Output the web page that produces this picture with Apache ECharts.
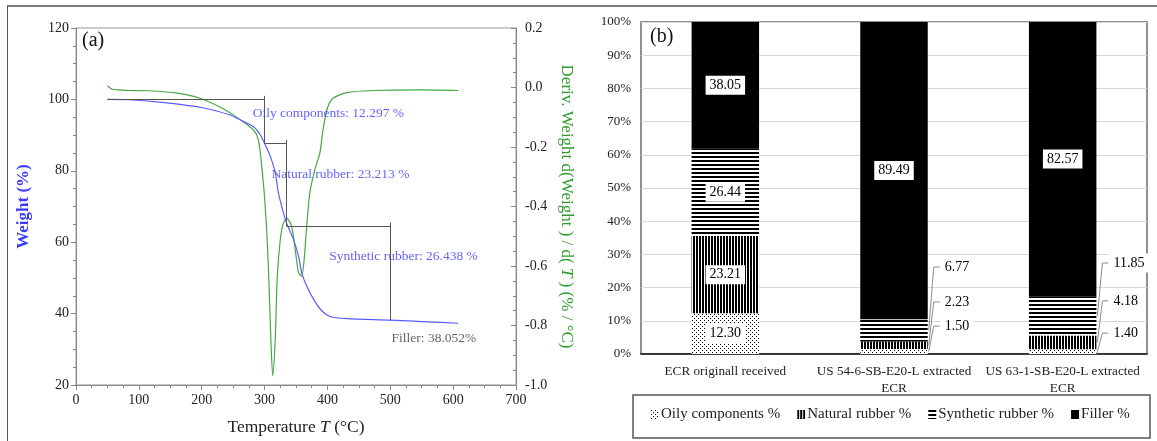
<!DOCTYPE html>
<html>
<head>
<meta charset="utf-8">
<script src="https://cdn.jsdelivr.net/npm/echarts@6/dist/echarts.min.js"></script>
<style>html,body{margin:0;padding:0;background:#fff;}#c{width:1157px;height:441px;}</style>
</head>
<body>
<div id="c"></div>
<script>
// ---- Panel (a) data ----
const tempW = [50, 85, 144, 203, 244, 261, 282, 293, 301, 309, 317, 322, 330, 335, 346, 354, 359, 367, 378, 391, 404, 431, 500, 558, 608];
const weightPct = [100, 99.9, 99.0, 97.6, 95.7, 94.3, 92.4, 90.1, 87.3, 84.1, 79.5, 73.8, 68.2, 65.4, 60.8, 56.1, 51.5, 47.7, 44.0, 40.8, 39.2, 38.6, 38.2, 37.7, 37.3];
const tempD = [50, 58, 85, 114, 161, 197, 232, 261, 282, 290, 295, 301, 306, 310, 313, 317, 320, 325, 330, 336, 343, 348, 354, 359, 363, 367, 372, 380, 388, 393, 400, 409, 431, 473, 547, 608];
const derivD = [0.006, -0.006, -0.010, -0.011, -0.019, -0.036, -0.069, -0.108, -0.142, -0.175, -0.254, -0.399, -0.600, -0.846, -0.969, -0.846, -0.645, -0.511, -0.455, -0.441, -0.466, -0.533, -0.622, -0.634, -0.578, -0.466, -0.354, -0.276, -0.220, -0.142, -0.069, -0.036, -0.017, -0.010, -0.008, -0.010];
const stepT = [50, 300, 335, 500];
const stepW = [100, 87.703, 64.490, 38.052];
const annoTexts = ['Oily components: 12.297 %', 'Natural rubber: 23.213 %', 'Synthetic rubber: 26.438 %', 'Filler: 38.052%'];
const annoT = [281, 311, 403, 502];
const annoW = [96.2, 78.9, 56.1, 33.1];
const xTicksA = [0, 700, 100];
const yTicksA = [20, 120, 20];
const yTicksD = [-1.0, 0.2, 0.2];

// ---- Panel (b) data ----
const categories = ['ECR originall received', 'US 54-6-SB-E20-L extracted\nECR', 'US 63-1-SB-E20-L extracted\nECR'];
const seriesNames = ['Oily components %', 'Natural rubber %', 'Synthetic rubber %', 'Filler %'];
const oily = [12.30, 1.50, 1.40];
const natural = [23.21, 2.23, 4.18];
const synthetic = [26.44, 6.77, 11.85];
const filler = [38.05, 89.49, 82.57];
// outside label anchors (in % units) for the small segments of bars 2 and 3: [oily, natural, synthetic]
const outLabelPct = {1: [8.4, 15.7, 26.2], 2: [6.3, 16.0, 27.4]};

const SERIF = 'Liberation Serif';
const BLUE = '#5b5bff', BLUE_T = '#3a3aff', GREEN = '#45a845', GREEN_T = '#2f9e2f';
const BAR_W = 0.4;

function makePattern(type) {
  const c = document.createElement('canvas');
  const ctx = c.getContext('2d');
  if (type === 'dots') {
    c.width = 4; c.height = 4;
    ctx.fillStyle = '#fff'; ctx.fillRect(0, 0, 4, 4);
    ctx.fillStyle = '#000'; ctx.fillRect(0, 0, 1, 1); ctx.fillRect(2, 2, 1, 1);
  } else if (type === 'vert') {
    c.width = 3; c.height = 3;
    ctx.fillStyle = '#fff'; ctx.fillRect(0, 0, 3, 3);
    ctx.fillStyle = '#000'; ctx.fillRect(0, 0, 2, 3);
  } else if (type === 'horiz') {
    c.width = 4; c.height = 4;
    ctx.fillStyle = '#fff'; ctx.fillRect(0, 0, 4, 4);
    ctx.fillStyle = '#000'; ctx.fillRect(0, 0, 4, 2);
  }
  return {image: c, repeat: 'repeat'};
}
const fills = [makePattern('dots'), makePattern('vert'), makePattern('horiz'), '#000'];

const chart = echarts.init(document.getElementById('c'), null, {renderer: 'canvas'});

// step annotation lines
const stepLines = [];
for (let i = 0; i < stepT.length - 1; i++) {
  stepLines.push([{coord: [stepT[i], stepW[i]]}, {coord: [stepT[i + 1], stepW[i]]}]);
  stepLines.push([{coord: [stepT[i + 1], stepW[i] + 1]}, {coord: [stepT[i + 1], stepW[i + 1]]}]);
}

const lblBase = {show: true, color: '#000', fontFamily: SERIF, fontSize: 14, backgroundColor: '#fff', padding: [3, 4, 2, 4]};

function barSeries(idx, data) {
  const s = {
    name: seriesNames[idx], type: 'bar', stack: 'all', xAxisIndex: 1, yAxisIndex: 2,
    barWidth: (BAR_W * 100) + '%', data: data,
    itemStyle: {color: fills[idx]},
    label: Object.assign({}, lblBase, {position: 'inside', formatter: p => p.value.toFixed(2)}),
    emphasis: {disabled: true}
  };
  if (idx < 3) {
    s.labelLayout = function (params) {
      if (params.dataIndex === 0) return {};
      const pct = outLabelPct[params.dataIndex][idx];
      const y = chart.convertToPixel({yAxisIndex: 2}, pct);
      return {x: params.rect.x + params.rect.width + 13, y: y, align: 'left', verticalAlign: 'middle'};
    };
  }
  return s;
}

const option = {
  animation: false,
  textStyle: {fontFamily: SERIF},
  grid: [
    {left: 76, right: 641, top: 28, bottom: 55, show: true, borderColor: '#999', borderWidth: 1, backgroundColor: 'transparent'},
    {left: 641, right: 10, top: 22, bottom: 87, show: true, borderColor: '#6b6b6b', borderWidth: 1.5, backgroundColor: 'transparent'}
  ],
  xAxis: [
    {
      type: 'value', gridIndex: 0, min: xTicksA[0], max: xTicksA[1], interval: xTicksA[2],
      name: '{n|Temperature }{i|T}{n| (°C)}', nameLocation: 'middle', nameGap: 33,
      nameTextStyle: {rich: {n: {fontFamily: SERIF, fontSize: 17.5, color: '#222'}, i: {fontFamily: SERIF, fontSize: 17.5, fontStyle: 'italic', color: '#222'}}},
      axisLine: {onZero: false, lineStyle: {color: '#888', width: 1}},
      axisTick: {inside: false, length: 5, lineStyle: {color: '#888'}},
      minorTick: {show: true, splitNumber: 4, length: 3, lineStyle: {color: '#888'}},
      splitLine: {show: false},
      axisLabel: {fontFamily: SERIF, fontSize: 14, color: '#222', margin: 8}
    },
    {
      type: 'category', gridIndex: 1, data: categories,
      axisLine: {lineStyle: {color: '#111', width: 1.5}},
      axisTick: {show: false},
      axisLabel: {interval: 0, fontFamily: SERIF, fontSize: 13.2, color: '#222', margin: 9, lineHeight: 17}
    }
  ],
  yAxis: [
    {
      type: 'value', gridIndex: 0, min: yTicksA[0], max: yTicksA[1], interval: yTicksA[2],
      name: 'Weight (%)', nameLocation: 'middle', nameGap: 44,
      nameTextStyle: {fontFamily: SERIF, fontSize: 17, fontWeight: 'bold', color: BLUE_T},
      axisLine: {show: true, onZero: false, lineStyle: {color: '#888'}},
      axisTick: {show: true, inside: false, length: 5, lineStyle: {color: '#888'}},
      minorTick: {show: true, splitNumber: 4, length: 3, lineStyle: {color: '#888'}},
      splitLine: {show: false},
      axisLabel: {fontFamily: SERIF, fontSize: 14, color: '#222', margin: 7}
    },
    {
      type: 'value', gridIndex: 0, position: 'right', min: yTicksD[0], max: yTicksD[1], interval: yTicksD[2],
      name: '{n|Deriv. Weight d(Weight ) / d( }{i|T}{n| ) (% / °C)}', nameLocation: 'middle', nameGap: 42, nameRotate: -90,
      nameTextStyle: {rich: {n: {fontFamily: SERIF, fontSize: 17, color: GREEN_T}, i: {fontFamily: SERIF, fontSize: 17, fontStyle: 'italic', color: GREEN_T}}},
      axisLine: {show: true, onZero: false, lineStyle: {color: '#888'}},
      axisTick: {show: true, inside: true, length: 5, lineStyle: {color: '#888'}},
      minorTick: {show: true, splitNumber: 4, length: 3, lineStyle: {color: '#888'}},
      splitLine: {show: false},
      axisLabel: {fontFamily: SERIF, fontSize: 14, color: '#222', margin: 9, formatter: v => v.toFixed(1)}
    },
    {
      type: 'value', gridIndex: 1, min: 0, max: 100, interval: 10,
      axisLine: {show: false}, axisTick: {show: false},
      splitLine: {show: true, lineStyle: {color: '#d9d9d9', width: 1}},
      axisLabel: {fontFamily: SERIF, fontSize: 13, color: '#222', margin: 10, formatter: v => v + '%'}
    }
  ],
  legend: {
    data: seriesNames, left: 651, top: 407, padding: 0, itemGap: 17, itemWidth: 8, itemHeight: 9, icon: 'rect',
    selectedMode: false,
    textStyle: {fontFamily: SERIF, fontSize: 15, color: '#222', padding: [0, 0, 0, -3]}
  },
  graphic: [
    {type: 'line', shape: {x1: 7, y1: 6, x2: 1157, y2: 6}, style: {stroke: '#7a7a7a', lineWidth: 2}, silent: true},
    {type: 'line', shape: {x1: 7.5, y1: 6, x2: 7.5, y2: 441}, style: {stroke: '#555', lineWidth: 1}, silent: true},
    {type: 'rect', shape: {x: 633, y: 395, width: 517, height: 43}, style: {fill: 'none', stroke: '#555', lineWidth: 1.5}, silent: true},
    {type: 'text', left: 82, top: 31, style: {text: '(a)', font: '20px "Liberation Serif"', fill: '#111'}, silent: true},
    {type: 'text', left: 650, top: 27, style: {text: '(b)', font: '20px "Liberation Serif"', fill: '#111'}, silent: true}
  ],
  series: [
    {
      name: 'Weight', type: 'line', xAxisIndex: 0, yAxisIndex: 0, showSymbol: false, smooth: 0.25,
      data: tempW.map((t, i) => [t, weightPct[i]]),
      lineStyle: {color: BLUE, width: 1.2}, z: 3,
      markLine: {silent: true, symbol: ['none', 'none'], label: {show: false}, lineStyle: {color: '#555', width: 1, type: 'solid'}, data: stepLines}
    },
    {
      name: 'Deriv', type: 'line', xAxisIndex: 0, yAxisIndex: 1, showSymbol: false, smooth: 0.25,
      data: tempD.map((t, i) => [t, derivD[i]]),
      lineStyle: {color: GREEN, width: 1.2}, z: 2
    },
    {
      name: 'anno', type: 'scatter', xAxisIndex: 0, yAxisIndex: 0, symbolSize: 0, silent: true,
      data: annoT.map((t, i) => ({value: [t, annoW[i]], label: {formatter: annoTexts[i], color: i === 3 ? '#3a3a3a' : BLUE_T}})),
      label: {show: true, position: 'right', distance: 0, fontFamily: SERIF, fontSize: 13.5}
    },
    barSeries(0, oily),
    barSeries(1, natural),
    barSeries(2, synthetic),
    barSeries(3, filler)
  ]
};
chart.setOption(option);

// leader lines for the outside labels, placed through the chart's own scales
const stacks = [oily, natural, synthetic];
const leaders = [];
[1, 2].forEach(di => {
  const cx = chart.convertToPixel({xAxisIndex: 1}, di);
  const catW = chart.convertToPixel({xAxisIndex: 1}, 1) - chart.convertToPixel({xAxisIndex: 1}, 0);
  const barRight = cx + catW * BAR_W / 2;
  let cum = 0;
  for (let k = 0; k < 3; k++) {
    const v = stacks[k][di];
    const segY = chart.convertToPixel({yAxisIndex: 2}, cum + v / 2);
    cum += v;
    const ly = chart.convertToPixel({yAxisIndex: 2}, outLabelPct[di][k]);
    const lx = barRight + 13;
    leaders.push({
      type: 'polyline', silent: true, z: 10,
      shape: {points: [[barRight + 1, segY], [lx - 7, ly], [lx - 1, ly]]},
      style: {stroke: '#8c8c8c', lineWidth: 1, fill: 'none'}
    });
  }
});
chart.setOption({graphic: option.graphic.concat(leaders)});
</script>
</body>
</html>
